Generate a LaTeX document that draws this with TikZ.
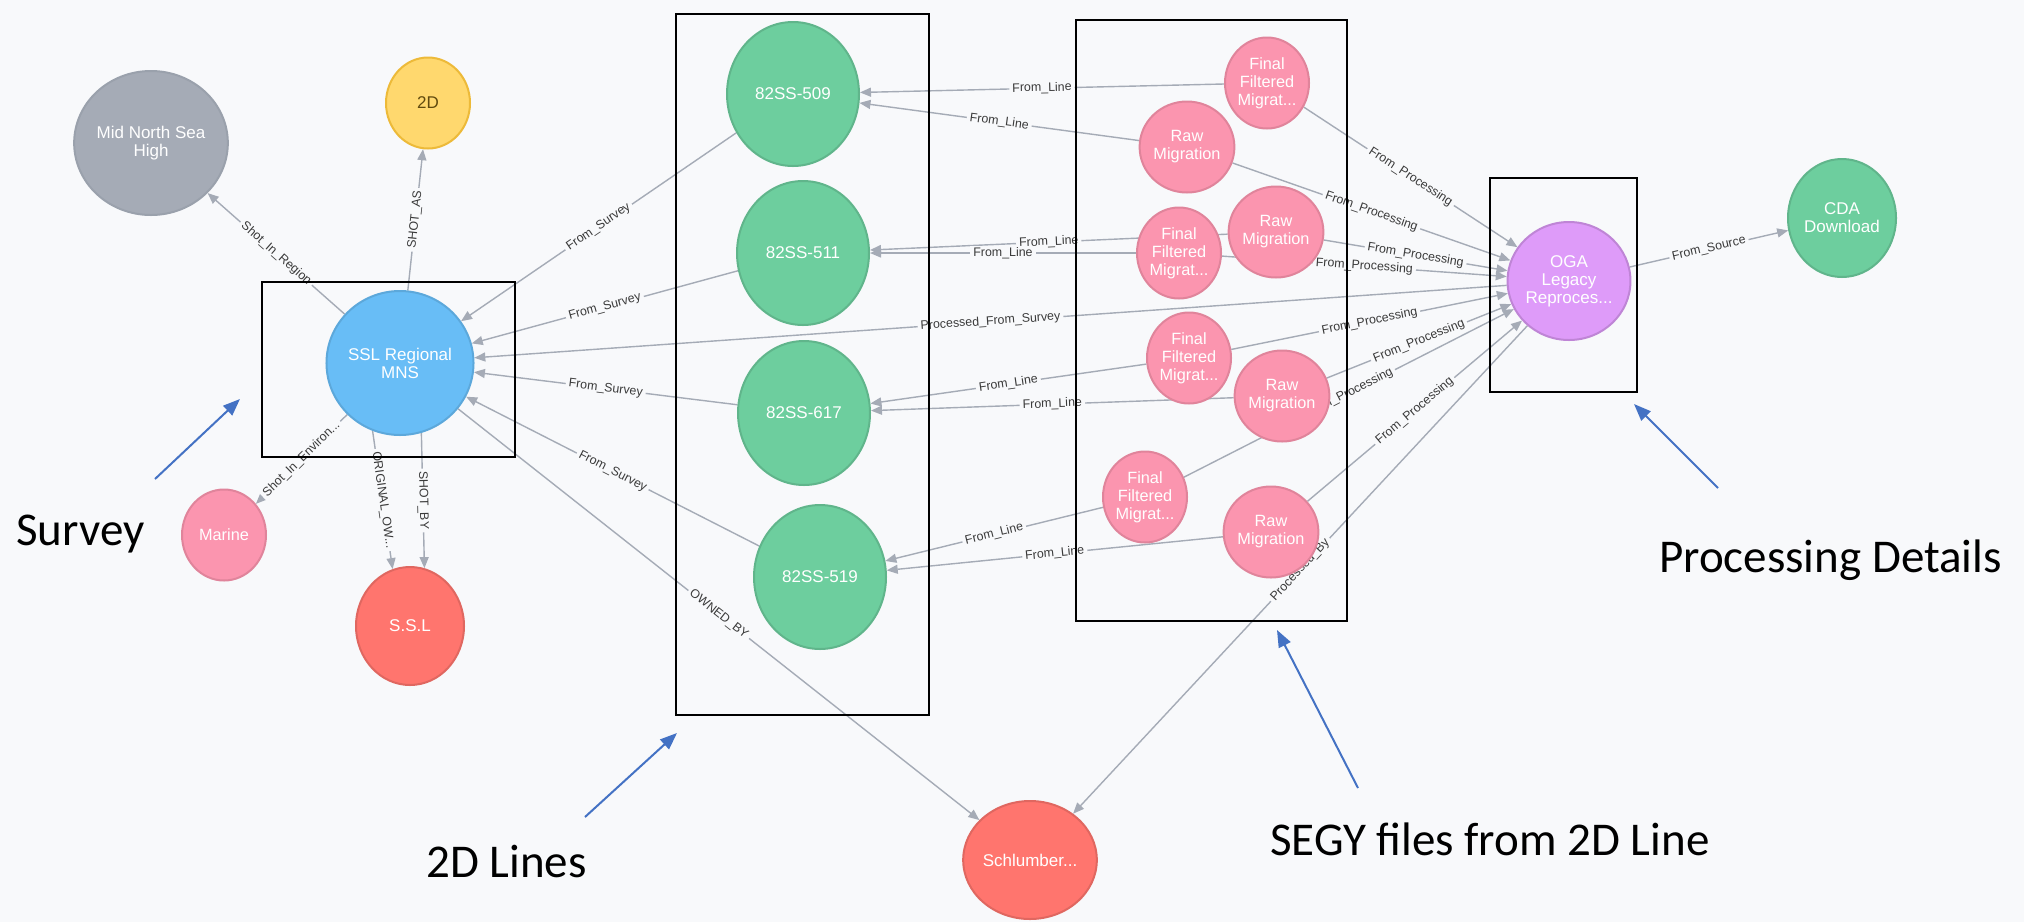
\documentclass[tikz,border=0pt]{standalone}
\usepackage{fontspec}
\setmainfont{Liberation Sans}
\newfontfamily\calibri{Carlito}
\usetikzlibrary{shapes.geometric,arrows.meta}

\definecolor{bg}{HTML}{F8F9FB}
\definecolor{edgegray}{HTML}{A5ABB6}
\definecolor{lbltext}{HTML}{3A3A3A}
\definecolor{annblue}{HTML}{4472C4}
\definecolor{grayfill}{HTML}{A5ABB6}\definecolor{graydraw}{HTML}{9AA1AC}
\definecolor{yelfill}{HTML}{FFD86E}\definecolor{yeldraw}{HTML}{EDBA39}
\definecolor{yeltext}{HTML}{604A0E}
\definecolor{bluefill}{HTML}{68BDF6}\definecolor{bluedraw}{HTML}{5CA8DB}
\definecolor{pinkfill}{HTML}{FB95AF}\definecolor{pinkdraw}{HTML}{E0849B}
\definecolor{redfill}{HTML}{FF756E}\definecolor{reddraw}{HTML}{E06760}
\definecolor{greenfill}{HTML}{6DCE9E}\definecolor{greendraw}{HTML}{60B58B}
\definecolor{purpfill}{HTML}{DE9BF9}\definecolor{purpdraw}{HTML}{BF85D6}

\pgfdeclarelayer{canvas}
\pgfdeclarelayer{links}
\pgfsetlayers{canvas,links,main}

\begin{document}
\begin{tikzpicture}[x=1pt,y=-1pt,
  gnode/.style={ellipse, inner sep=0pt, line width=2pt, text=white, align=center,
    font=\fontsize{17}{18}\selectfont},
  gray node/.style={gnode, fill=grayfill, draw=graydraw},
  yellow node/.style={gnode, fill=yelfill, draw=yeldraw, text=yeltext},
  blue node/.style={gnode, fill=bluefill, draw=bluedraw},
  pink node/.style={gnode, fill=pinkfill, draw=pinkdraw, font=\fontsize{16.3}{18}\selectfont},
  red node/.style={gnode, fill=redfill, draw=reddraw},
  green node/.style={gnode, fill=greenfill, draw=greendraw},
  purple node/.style={gnode, fill=purpfill, draw=purpdraw},
  big/.style={minimum width=132pt, minimum height=144pt},
  mid/.style={minimum width=108pt, minimum height=118pt},
  small/.style={minimum width=84pt, minimum height=91pt},
  edge/.style={draw=edgegray, line width=1.4pt, -{Triangle[length=11pt,width=9pt]}},
  lbl/.style={sloped, fill=bg, inner xsep=3pt, inner ysep=1pt, text=lbltext,
    font=\fontsize{12.4}{13}\selectfont},
  groupbox/.style={draw=black, line width=2.6pt},
  ann/.style={draw=annblue, line width=2pt, -{Triangle[length=17pt,width=13pt]}},
  anntext/.style={anchor=base west, inner sep=0pt, font=\calibri\fontsize{47}{56}\selectfont}
]
\useasboundingbox (0,0) rectangle (2024,922);
\begin{pgfonlayer}{canvas}
  \fill[bg] (0,0) rectangle (2024,922);
\end{pgfonlayer}

% ---- graph nodes ----
\path
  (151,143) node[gray node, big] (mnsh) {Mid North Sea\\High}
  (428,103) node[yellow node, small] (twod) {2D}
  (400,363) node[blue node, big] (ssl) {SSL Regional\\MNS}
  (224,535) node[pink node, small] (marine) {Marine}
  (410,626) node[red node, mid] (sslco) {S.S.L}
  (793,94)  node[green node, big] (l509) {82SS-509}
  (803,253) node[green node, big] (l511) {82SS-511}
  (804,413) node[green node, big] (l617) {82SS-617}
  (820,577) node[green node, big] (l519) {82SS-519}
  (1267,83)  node[pink node, small] (ffm1) {Final\\Filtered\\Migrat...}
  (1187,147) node[pink node, small] (rm1) {Raw\\Migration}
  (1179,253) node[pink node, small] (ffm2) {Final\\Filtered\\Migrat...}
  (1276,232) node[pink node, small] (rm2) {Raw\\Migration}
  (1189,358) node[pink node, small] (ffm3) {Final\\Filtered\\Migrat...}
  (1282,396) node[pink node, small] (rm3) {Raw\\Migration}
  (1145,497) node[pink node, small] (ffm4) {Final\\Filtered\\Migrat...}
  (1271,532) node[pink node, small] (rm4) {Raw\\Migration}
  (1569,281) node[purple node, mid] (oga) {OGA\\Legacy\\Reproces...}
  (1842,218) node[green node, mid] (cda) {CDA\\Download}
  (1030,860) node[red node, mid] (schl) {Schlumber...};

% ---- relationships, kept underneath the nodes ----
\begin{pgfonlayer}{links}
\draw[edge] (ssl) -- node[lbl]{Shot\_In\_Region} (mnsh);
\draw[edge] (ssl) -- node[lbl]{SHOT\_AS} (twod);
\draw[edge] (ssl) -- node[lbl]{Shot\_In\_Environ...} (marine);
\draw[edge] (ssl.-112) -- node[lbl]{ORIGINAL\_OW...} (sslco.107);
\draw[edge] (ssl.-73) -- node[lbl]{SHOT\_BY} (sslco.76);
\draw[edge] (ssl) -- node[lbl]{OWNED\_BY} (schl);

\draw[edge] (l509) -- node[lbl]{From\_Survey} (ssl);
\draw[edge] (l511) -- node[lbl]{From\_Survey} (ssl);
\draw[edge] (l617) -- node[lbl]{From\_Survey} (ssl);
\draw[edge] (l519) -- node[lbl]{From\_Survey} (ssl);
\draw[edge] (oga) -- node[lbl]{Processed\_From\_Survey} (ssl);

\draw[edge] (ffm1) -- node[lbl]{From\_Line} (l509);
\draw[edge] (rm1)  -- node[lbl]{From\_Line} (l509);
\draw[edge] (rm2)  -- node[lbl]{From\_Line} (l511);
\draw[edge] (ffm2) -- node[lbl]{From\_Line} (l511);
\draw[edge] (ffm3) -- node[lbl]{From\_Line} (l617);
\draw[edge] (rm3)  -- node[lbl]{From\_Line} (l617);
\draw[edge] (ffm4) -- node[lbl]{From\_Line} (l519);
\draw[edge] (rm4)  -- node[lbl]{From\_Line} (l519);

\foreach \src in {ffm1,rm1,rm2,ffm2,ffm3,rm3,ffm4,rm4}
  \draw[edge] (\src) -- node[lbl]{From\_Processing} (oga);

\draw[edge] (oga) -- node[lbl]{From\_Source} (cda);
\draw[edge] (oga) -- node[lbl]{Processed\_By} (schl);
\end{pgfonlayer}

% ---- grouping frames ----
\draw[groupbox] (262,282) rectangle (515,457);
\draw[groupbox] (676,14) rectangle (929,715);
\draw[groupbox] (1076,20) rectangle (1347,621);
\draw[groupbox] (1490,178) rectangle (1637,392);

% ---- captions and pointers ----
\node[anntext] (tsurvey) at (16,545) {Survey};
\node[anntext] (tlines) at (426,877) {2D Lines};
\node[anntext] (tsegy) at (1270,855) {SEGY files from 2D Line};
\node[anntext] (tproc) at (1659,572) {Processing Details};

\coordinate (s0) at (155,479);   \coordinate (s1) at (240,399);
\coordinate (l0) at (585,817);   \coordinate (l1) at (677,733);
\coordinate (g0) at (1358,788);  \coordinate (g1) at (1277,630);
\coordinate (p0) at (1718,488);  \coordinate (p1) at (1634,404);
\draw[ann] (s0) -- (s1);
\draw[ann] (l0) -- (l1);
\draw[ann] (g0) -- (g1);
\draw[ann] (p0) -- (p1);
\end{tikzpicture}
\end{document}
